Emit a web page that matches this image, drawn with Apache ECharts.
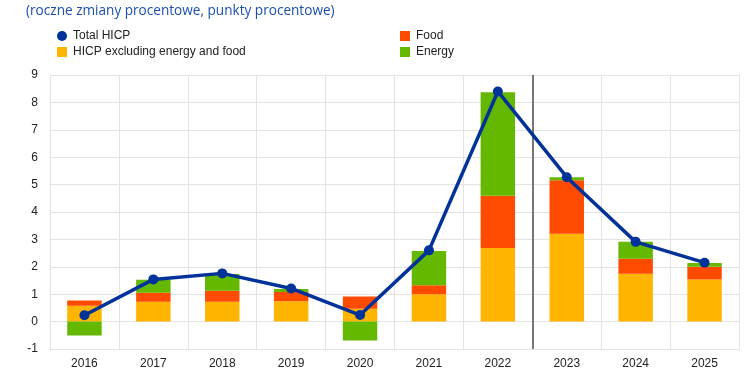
<!DOCTYPE html>
<html><head><meta charset="utf-8">
<script src="https://cdn.jsdelivr.net/npm/echarts@6/dist/echarts.min.js"></script>
<style>html,body{margin:0;padding:0;background:#fff}#c{width:756px;height:377px}</style>
</head><body><div id="c"></div>
<script>
const years = ['2016','2017','2018','2019','2020','2021','2022','2023','2024','2025'];
const coreHICP = [0.58, 0.72, 0.72, 0.74, 0.47, 1.00, 2.69, 3.21, 1.75, 1.54];
const food = [0.19, 0.33, 0.41, 0.34, 0.45, 0.33, 1.90, 1.95, 0.54, 0.46];
const energy = [-0.51, 0.48, 0.61, 0.11, -0.69, 1.25, 3.78, 0.11, 0.62, 0.14];
const totalHICP = [0.23, 1.54, 1.76, 1.21, 0.24, 2.60, 8.40, 5.27, 2.91, 2.15];
const projectionStart = 7;

const chart = echarts.init(document.getElementById('c'));
const font = 'Liberation Sans, Arial, sans-serif';
const legendText = {fontSize: 12, color: '#222', fontFamily: font, padding: [0, 0, 0, 1]};
chart.setOption({
  animation: false,
  title: {
    text: '(roczne zmiany procentowe, punkty procentowe)',
    left: 21, top: -1,
    textStyle: {color: '#1a4fb0', fontSize: 13.6, fontWeight: 'normal', fontFamily: 'Open Sans'}
  },
  legend: [
    {left: 52, top: 25, orient: 'vertical', itemGap: 4, itemWidth: 10, itemHeight: 10,
     textStyle: legendText,
     data: [{name: 'Total HICP', icon: 'circle'}, {name: 'HICP excluding energy and food', icon: 'rect'}]},
    {left: 395, top: 25, orient: 'vertical', itemGap: 4, itemWidth: 10, itemHeight: 10,
     textStyle: legendText,
     data: [{name: 'Food', icon: 'rect'}, {name: 'Energy', icon: 'rect'}]}
  ],
  grid: {left: 50, right: 17, top: 75, bottom: 28},
  xAxis: [{
    type: 'category', data: years,
    axisLine: {onZero: false, lineStyle: {color: '#e3e3e3'}},
    axisTick: {show: false},
    axisLabel: {color: '#222', fontSize: 12, fontFamily: font, margin: 9},
    splitLine: {show: true, interval: 0, lineStyle: {color: '#e3e3e3'}}
  }, {
    type: 'value', min: 0, max: years.length, show: false
  }],
  yAxis: {
    type: 'value', min: -1, max: 9, interval: 1,
    axisLine: {show: false}, axisTick: {show: false},
    axisLabel: {color: '#222', fontSize: 12, fontFamily: font, margin: 12},
    splitLine: {lineStyle: {color: '#e3e3e3'}}
  },
  series: [
    {name: 'HICP excluding energy and food', type: 'bar', stack: 'a', data: coreHICP, barWidth: '50%', itemStyle: {color: '#FFB400'}},
    {name: 'Food', type: 'bar', stack: 'a', data: food, itemStyle: {color: '#FF4B00'}},
    {name: 'Energy', type: 'bar', stack: 'a', data: energy, itemStyle: {color: '#65B800'}},
    {name: 'Total HICP', type: 'line', data: totalHICP, z: 5,
     symbol: 'circle', symbolSize: 10,
     lineStyle: {color: '#003299', width: 3.5}, itemStyle: {color: '#003299'}},
    {name: 'proj', type: 'line', xAxisIndex: 1, data: [], silent: true,
     markLine: {symbol: 'none', silent: true, label: {show: false},
       lineStyle: {color: '#777', width: 2, type: 'solid'},
       data: [{xAxis: projectionStart}]}}
  ]
});
</script></body></html>
